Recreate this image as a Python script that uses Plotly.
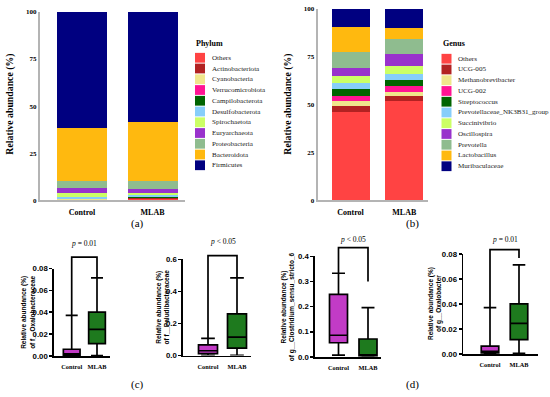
import plotly.graph_objects as go

# ---------------- DATA ----------------
categories = ["Control", "MLAB"]

phylum_names = ["Others", "Actinobacteriota", "Cyanobacteria", "Verrucomicrobiota",
                "Campilobacterota", "Desulfobacterota", "Spirochaetota", "Euryarchaeota",
                "Proteobacteria", "Bacteroidota", "Firmicutes"]
phylum_control = [0.3, 0.1, 0.1, 0.4, 0.1, 0.8, 1.9, 3.0, 3.8, 27.9, 61.6]
phylum_mlab = [0.5, 0.6, 0.3, 0.1, 0.3, 1.2, 1.0, 2.2, 4.1, 31.2, 58.5]

genus_names = ["Others", "UCG-005", "Methanobrevibacter", "UCG-002", "Streptococcus",
               "Prevotellaceae_NK3B31_group", "Succinivibrio", "Oscillospira",
               "Prevotella", "Lactobacillus", "Muribaculaceae"]
genus_control = [46.0, 3.1, 2.9, 2.7, 3.5, 3.1, 3.8, 4.3, 7.9, 13.2, 9.5]
genus_mlab = [51.8, 2.6, 2.1, 3.1, 3.1, 3.4, 4.0, 6.2, 8.1, 5.8, 9.8]

bar_ticks = [0, 25, 50, 75, 100]

# box statistics, [Control, MLAB]
oxalobacteraceae = dict(lowerfence=[0.0, 0.0005], q1=[0.0008, 0.0115], median=[0.002, 0.0245],
                        q3=[0.0063, 0.0402], upperfence=[0.0372, 0.0715])
paludibacteraceae = dict(lowerfence=[0.0, 0.002], q1=[0.012, 0.046], median=[0.03, 0.115],
                         q3=[0.066, 0.26], upperfence=[0.107, 0.485])
clostridium = dict(lowerfence=[0.007, 0.002], q1=[0.056, 0.004], median=[0.086, 0.008],
                   q3=[0.249, 0.071], upperfence=[0.333, 0.196])
oxalobacter = dict(lowerfence=[0.0, 0.0005], q1=[0.0008, 0.0115], median=[0.002, 0.0245],
                   q3=[0.0063, 0.0402], upperfence=[0.0372, 0.0715])

p_labels = ["<i>p</i> = 0.01", "<i>p</i> < 0.05", "<i>p</i> < 0.05", "<i>p</i> = 0.01"]
box_titles = ["of f__Oxalobacteraceae", "of f__Paludibacteraceae",
              "of g__Clostridium_sensu_stricto_6", "of g__Oxalobacter"]

# ---------------- STYLE / LAYOUT ----------------
W, H = 550, 397
SERIF = "Liberation Serif"
SANS = "Liberation Sans"
stack_colors = ["#FF4343", "#B22222", "#F0E68C", "#FF1493", "#006400", "#87CEFA",
                "#CCFF66", "#9932CC", "#8FBC8F", "#FFB90F", "#000080"]
box_colors = ["#C23BC6", "#1E7A1E"]


def px(x):
    return x / W


def py(y):
    return 1 - y / H


fig = go.Figure()
shapes = []
annotations = []

# bar panels geometry (pixels)
bar_panels = [
    dict(ax="", names=phylum_names, ctrl=phylum_control, mlab=phylum_mlab, title="Phylum",
         axis_x=40, x_end=185, cc=82, mc=152.5, bw=50, y0=201, ytop=8,
         leg_x=195, leg_text_x=211, leg_title_y=40, leg_y=55, ylab_x=10, lab_x=137),
    dict(ax="2", names=genus_names, ctrl=genus_control, mlab=genus_mlab, title="Genus",
         axis_x=317.7, x_end=428, cc=350.5, mc=404.3, bw=38, y0=201, ytop=5,
         leg_x=441.5, leg_text_x=457, leg_title_y=40, leg_y=56, ylab_x=288, lab_x=412),
]
labels_top = ["(a)", "(b)"]

for k, P in enumerate(bar_panels):
    sp = P["mc"] - P["cc"]
    r0 = -(P["cc"] - P["axis_x"]) / sp
    r1 = 1 + (P["x_end"] - P["mc"]) / sp
    for i, name in enumerate(P["names"]):
        fig.add_trace(go.Bar(
            x=categories, y=[P["ctrl"][i], P["mlab"][i]], name=name,
            marker=dict(color=stack_colors[i], line=dict(width=0)),
            width=P["bw"] / sp, showlegend=False,
            xaxis="x" + P["ax"], yaxis="y" + P["ax"]))
    xa = dict(domain=[px(P["axis_x"]), px(P["x_end"])], range=[r0, r1], type="category",
              showline=True, linecolor="#B4B4B4", linewidth=2, ticks="outside", ticklen=3,
              tickcolor="rgba(0,0,0,0)", showgrid=False, zeroline=False,
              tickfont=dict(family=SERIF, size=8, color="black", weight="bold"),
              anchor="y" + P["ax"])
    ya = dict(domain=[py(P["y0"]), py(P["ytop"])], range=[0, 100], tickvals=bar_ticks,
              showline=True, linecolor="#B4B4B4", linewidth=2, ticks="", showgrid=False,
              zeroline=False, tickfont=dict(family=SERIF, size=7, color="black", weight="bold"),
              anchor="x" + P["ax"])
    fig.update_layout(**{"xaxis" + P["ax"]: xa, "yaxis" + P["ax"]: ya})
    # manual compact legend
    annotations.append(dict(text="<b>" + P["title"] + "</b>", x=px(P["leg_x"] - 1),
                            y=py(P["leg_title_y"]), xref="paper", yref="paper",
                            xanchor="left", yanchor="middle", showarrow=False,
                            font=dict(family=SERIF, size=8, color="black")))
    for i, name in enumerate(P["names"]):
        yc = P["leg_y"] + 11 * i
        shapes.append(dict(type="rect", xref="paper", yref="paper",
                           x0=px(P["leg_x"]), x1=px(P["leg_x"] + 10),
                           y0=py(yc + 5), y1=py(yc - 5),
                           fillcolor=stack_colors[i], line=dict(width=0)))
        annotations.append(dict(text=name, x=px(P["leg_text_x"] - 1), y=py(yc),
                                xref="paper", yref="paper", xanchor="left",
                                yanchor="middle", showarrow=False,
                                font=dict(family=SERIF, size=7.1, color="#222")))
    annotations.append(dict(text="<b>Relative abundance (%)</b>", textangle=-90,
                            x=px(P["ylab_x"]), y=py(103), xref="paper", yref="paper",
                            xanchor="center", yanchor="middle", showarrow=False,
                            font=dict(family=SERIF, size=9.8, color="black")))
    annotations.append(dict(text=labels_top[k], x=px(P["lab_x"]), y=py(225),
                            xref="paper", yref="paper", xanchor="center", yanchor="middle",
                            showarrow=False, font=dict(family=SERIF, size=11, color="black")))

fig.update_layout(barmode="stack")

# box panels geometry (pixels)
box_data = [oxalobacteraceae, paludibacteraceae, clostridium, oxalobacter]
box_panels = [
    dict(axis_x=54, x_end=110, cc=71.7, mc=97, bw=16.7, y0=360.3, ytop=270.7, top=0.08,
         dtick=0.02, fmt=".2f", br_top=0.0905, br_l=0.0372, br_r=0.0715, p_y=245, ylab_x=27.5),
    dict(axis_x=183, x_end=251, cc=208, mc=237, bw=19, y0=359.7, ytop=261.3, top=0.6,
         dtick=0.2, fmt=".1f", br_top=0.623, br_l=0.107, br_r=0.485, p_y=243, ylab_x=162),
    dict(axis_x=315, x_end=381, cc=338.5, mc=368, bw=18, y0=361, ytop=258.3, top=0.4,
         dtick=0.1, fmt=".1f", br_top=0.435, br_l=0.333, br_r=0.30, p_y=241, ylab_x=287.5),
    dict(axis_x=463.3, x_end=538.3, cc=490, mc=519, bw=17.5, y0=358, ytop=256, top=0.08,
         dtick=0.02, fmt=".2f", br_top=0.0837, br_l=0.0372, br_r=0.077, p_y=241, ylab_x=435),
]

for k, (P, D) in enumerate(zip(box_panels, box_data)):
    n = str(k + 3)
    sp = P["mc"] - P["cc"]
    r0 = -(P["cc"] - P["axis_x"]) / sp
    r1 = 1 + (P["x_end"] - P["mc"]) / sp
    for g in range(2):
        fig.add_trace(go.Box(
            x=[categories[g]], q1=[D["q1"][g]], median=[D["median"][g]], q3=[D["q3"][g]],
            lowerfence=[D["lowerfence"][g]], upperfence=[D["upperfence"][g]],
            fillcolor=box_colors[g], line=dict(color="black", width=1.7),
            width=P["bw"] / sp, whiskerwidth=0.72, boxpoints=False, showlegend=False,
            hoverinfo="skip", xaxis="x" + n, yaxis="y" + n))
    xa = dict(domain=[px(P["axis_x"]), px(P["x_end"])], range=[r0, r1], type="category",
              categoryorder="array", categoryarray=categories,
              showline=True, linecolor="black", linewidth=1.7, ticks="outside", ticklen=4,
              tickcolor="rgba(0,0,0,0)", showgrid=False, zeroline=False,
              tickfont=dict(family=SERIF, size=6.3, color="black", weight="bold"),
              anchor="y" + n)
    ya = dict(domain=[py(P["y0"]), py(P["ytop"])], range=[0, P["top"]], dtick=P["dtick"],
              tick0=0, tickformat=P["fmt"], showline=True, linecolor="black", linewidth=1.7,
              ticks="outside", ticklen=3, tickwidth=1.7, tickcolor="black", showgrid=False,
              zeroline=False, tickfont=dict(family=SANS, size=7.8, color="black", weight="bold"),
              anchor="x" + n)
    fig.update_layout(**{"xaxis" + n: xa, "yaxis" + n: ya})

    xd0, xd1 = px(P["axis_x"]), px(P["x_end"])
    yd0, yd1 = py(P["y0"]), py(P["ytop"])

    def xm(i):
        return xd0 + (i - r0) / (r1 - r0) * (xd1 - xd0)

    def ym(v):
        return yd0 + v / P["top"] * (yd1 - yd0)

    path = "M {a},{b} L {a},{c} L {d},{c} L {d},{e}".format(
        a=xm(0), b=ym(P["br_l"]), c=ym(P["br_top"]), d=xm(1), e=ym(P["br_r"]))
    shapes.append(dict(type="path", path=path, xref="paper", yref="paper",
                       line=dict(color="black", width=1.7)))
    annotations.append(dict(text=p_labels[k], x=(xm(0) + xm(1)) / 2, y=py(P["p_y"]),
                            xref="paper", yref="paper", xanchor="center", yanchor="middle",
                            showarrow=False, font=dict(family=SERIF, size=7.5, color="black")))
    annotations.append(dict(text="<b>Relative abundance (%)</b><br><b>" + box_titles[k] + "</b>",
                            textangle=-90, x=px(P["ylab_x"]), y=py((P["y0"] + P["ytop"]) / 2),
                            xref="paper", yref="paper", xanchor="center", yanchor="middle",
                            showarrow=False,
                            font=dict(family=SANS, size=6.5, color="black")))

for lab, x in [("(c)", 137), ("(d)", 412)]:
    annotations.append(dict(text=lab, x=px(x), y=py(389), xref="paper", yref="paper",
                            xanchor="center", yanchor="middle", showarrow=False,
                            font=dict(family=SERIF, size=11, color="black")))

fig.update_layout(width=W, height=H, margin=dict(l=0, r=0, t=0, b=0),
                  paper_bgcolor="white", plot_bgcolor="white", showlegend=False,
                  boxmode="overlay", hovermode=False, shapes=shapes, annotations=annotations)

fig.write_html("out.html", config={"displayModeBar": False, "staticPlot": True},
               post_script="document.body.style.margin='0';document.body.style.overflow='hidden';")
